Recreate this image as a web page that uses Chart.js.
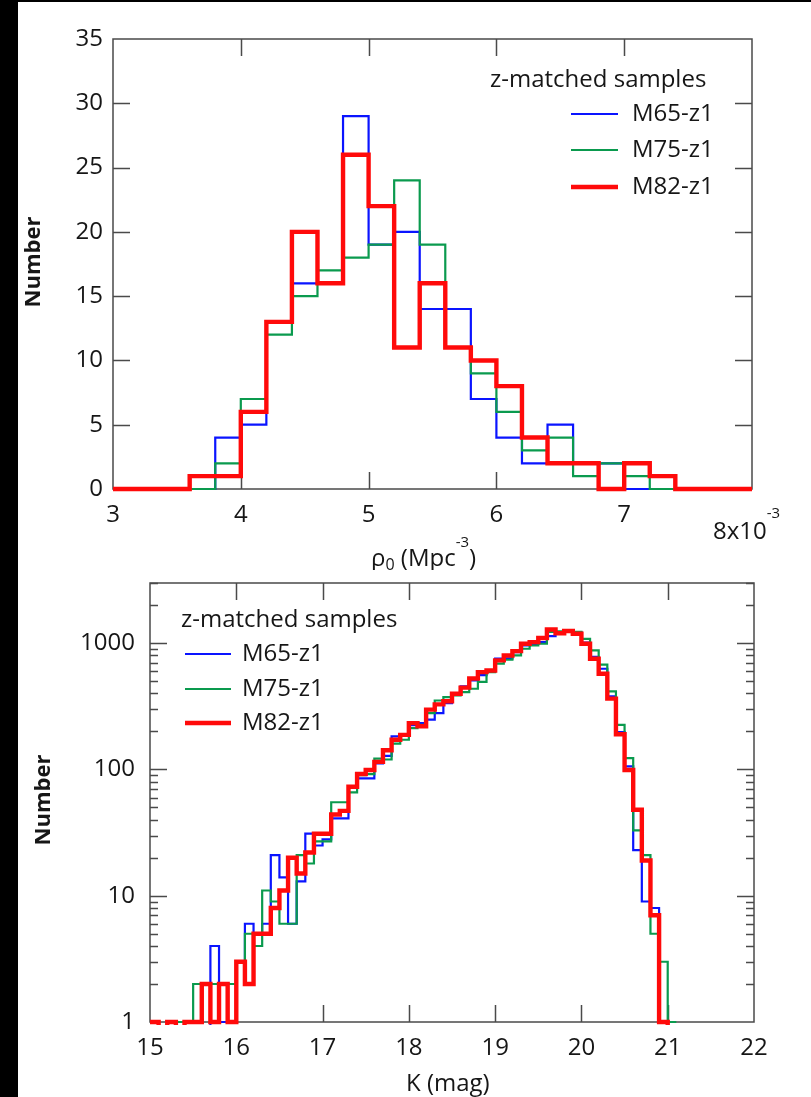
<!DOCTYPE html>
<html>
<head>
<meta charset="utf-8">
<title>z-matched samples</title>
<script src="https://cdn.jsdelivr.net/npm/chart.js@4.4.1/dist/chart.umd.min.js"></script>
<style>
  html, body { margin:0; padding:0; background:#000; }
  #page { position:relative; width:811px; height:1097px; overflow:hidden; background:#000; }
  #sheet { position:absolute; left:18px; top:2px; right:0; bottom:0; background:#fff; }
  canvas { position:absolute; left:0; }
  #cRho { top:0; }
  #cK { top:540px; }
</style>
</head>
<body>
<div id="page">
  <div id="sheet"></div>
  <canvas id="cRho" width="811" height="570"></canvas>
  <canvas id="cK" width="811" height="557"></canvas>
</div>
<script>
/* ── Data: top panel, rho_0 histogram (units of 1e-3 Mpc^-3, bins of 0.2) ── */
const rhoEdges = [3.0,3.2,3.4,3.6,3.8,4.0,4.2,4.4,4.6,4.8,5.0,5.2,5.4,5.6,5.8,6.0,6.2,6.4,6.6,6.8,7.0,7.2,7.4,7.6,7.8,8.0];
const rhoM65 = [0,0,0,0,4,5,13,16,16,29,19,20,14,14,7,4,2,5,2,2,0,0,0,0,0];
const rhoM75 = [0,0,0,0,2,7,12,15,17,18,19,24,19,11,9,6,3,4,1,2,1,0,0,0,0];
const rhoM82 = [0,0,0,1,1,6,13,20,16,26,22,11,16,11,10,8,4,2,2,0,2,1,0,0,0];
const rhoXTicks = [3,4,5,6,7,8];
const rhoYTicks = [0,5,10,15,20,25,30,35];

/* ── Data: bottom panel, K magnitude histogram (bins of 0.1 mag) ── */
const kEdges = [15.0,15.1,15.2,15.3,15.4,15.5,15.6,15.7,15.8,15.9,
  16.0,16.1,16.2,16.3,16.4,16.5,16.6,16.7,16.8,16.9,
  17.0,17.1,17.2,17.3,17.4,17.5,17.6,17.7,17.8,17.9,
  18.0,18.1,18.2,18.3,18.4,18.5,18.6,18.7,18.8,18.9,
  19.0,19.1,19.2,19.3,19.4,19.5,19.6,19.7,19.8,19.9,
  20.0,20.1,20.2,20.3,20.4,20.5,20.6,20.7,20.8,20.9,
  21.0,21.1];
const kM65 = [0,0,0,0,0,0,0,4,1,1, 3,6,5,6,21,14,6,13,31,25,
  28,41,41,72,85,85,112,128,183,188, 224,233,248,280,336,398,455,508,560,600,
  754,760,850,960,990,1020,1140,1200,1250,1220, 1010,780,628,380,198,106,23,9,8,1, 0];
const kM75 = [0,0,0,1,1,2,2,2,2,2, 3,5,4,11,9,6,6,21,18,27,
  27,55,55,66,90,92,122,120,160,172, 213,226,280,352,374,387,410,436,495,591,
  689,740,800,904,960,991,1230,1240,1250,1230, 1084,877,676,416,226,123,33,21,5,3, 1];
const kM82 = [1,0,1,0,1,1,2,1,2,1, 3,2,5,5,8,11,20,15,22,31,
  31,44,47,73,92,99,115,142,172,188, 233,220,298,328,347,398,445,525,591,609,
  731,800,866,991,1021,1099,1285,1200,1250,1190, 991,754,574,364,190,99,48,19,7,1, 0];
const kXTicks = [15,16,17,18,19,20,21,22];
const kYTicks = [1,10,100,1000];

const seriesNames = ['M65-z1','M75-z1','M82-z1'];
const legendTitle = 'z-matched samples';

/* ── Style ── */
const FONT = '"Open Sans", "DejaVu Sans", sans-serif';
const TXT = '#161616';
const AXIS = '#4a4a4a';
const COLORS = ['#0a14ff','#0a9a4e','#ff0a0a'];
const WIDTHS = [2.2,2.2,4.4];

/* ── Helpers ── */
// bins -> stepped points at bin edges (last edge repeats last value)
function stepPoints(edges, vals, floorVal){
  const pts = vals.map(function(v,i){
    return { x: edges[i], y: (floorVal && v === 0) ? floorVal : v };
  });
  const last = pts[pts.length-1].y;
  pts.push({ x: edges[vals.length], y: last });
  return pts;
}

function makeSets(edges, series, floorVal){
  // blue under green under red
  return series.map(function(vals,i){
    return {
      label: seriesNames[i], data: stepPoints(edges, vals, floorVal),
      borderColor: COLORS[i], borderWidth: WIDTHS[i], stepped: 'before',
      pointRadius: 0, fill: false, order: 2 - i,
      borderJoinStyle: 'miter', borderCapStyle: 'butt',
      clip: { left: 4, right: 4, top: 4, bottom: 3 }
    };
  });
}

function runs(ctx, parts, x, y){
  let cx = x;
  parts.forEach(function(p){
    ctx.font = (p[3] || '') + ' ' + p[1] + 'px ' + FONT;
    ctx.fillText(p[0], cx, y + p[2]);
    cx += ctx.measureText(p[0]).width;
  });
}

/* ── Plugin: box + inward ticks ── */
const frameTicks = {
  id: 'frameTicks',
  beforeDatasetsDraw(chart, args, o){
    const ctx = chart.ctx, a = chart.chartArea, sx = chart.scales.x, sy = chart.scales.y;
    ctx.save();
    ctx.strokeStyle = AXIS; ctx.lineWidth = 1.5;
    ctx.strokeRect(a.left, a.top, a.right - a.left, a.bottom - a.top);
    ctx.beginPath();
    o.xMajor.forEach(function(v){
      const p = Math.round(sx.getPixelForValue(v)) + 0.5;
      if(p <= a.left + 2 || p >= a.right - 2) return;
      ctx.moveTo(p, a.bottom); ctx.lineTo(p, a.bottom - o.len);
      ctx.moveTo(p, a.top); ctx.lineTo(p, a.top + o.len);
    });
    o.yMajor.forEach(function(v){
      const p = Math.round(sy.getPixelForValue(v)) + 0.5;
      if(p <= a.top + 2 || p >= a.bottom - 2) return;
      ctx.moveTo(a.left, p); ctx.lineTo(a.left + o.len, p);
      ctx.moveTo(a.right, p); ctx.lineTo(a.right - o.len, p);
    });
    (o.yMinor || []).forEach(function(v){
      const p = Math.round(sy.getPixelForValue(v)) + 0.5;
      ctx.moveTo(a.left, p); ctx.lineTo(a.left + o.minLen, p);
      ctx.moveTo(a.right, p); ctx.lineTo(a.right - o.minLen, p);
    });
    ctx.stroke();
    ctx.restore();
  },
  afterDraw(chart, args, o){
    const ctx = chart.ctx;
    ctx.save();
    ctx.fillStyle = TXT;
    ctx.textBaseline = 'middle';
    // y title
    ctx.save();
    ctx.translate(o.yTitle.x, o.yTitle.y);
    ctx.rotate(-Math.PI/2);
    ctx.textAlign = 'center';
    ctx.font = 'bold ' + o.yTitle.size + 'px ' + FONT;
    ctx.fillText('Number', 0, 0);
    ctx.restore();
    // legend
    const L = o.legend;
    ctx.textAlign = 'left';
    ctx.font = L.size + 'px ' + FONT;
    ctx.fillText(legendTitle, L.titleX, L.titleY);
    chart.data.datasets.forEach(function(ds, i){
      const yy = L.rowY[i];
      ctx.strokeStyle = ds.borderColor; ctx.lineWidth = ds.borderWidth;
      ctx.beginPath(); ctx.moveTo(L.lineX0, yy); ctx.lineTo(L.lineX1, yy); ctx.stroke();
      ctx.fillText(ds.label, L.textX, yy);
    });
    // extra text (axis titles etc.)
    ctx.textBaseline = 'alphabetic';
    o.texts.forEach(function(t){ runs(ctx, t.parts, t.x, t.y); });
    ctx.restore();
  }
};

function baseScale(extra){
  return Object.assign({
    grid: { display: false, drawTicks: false },
    border: { display: false }
  }, extra);
}

/* ── Top chart ── */
new Chart(document.getElementById('cRho'), {
  type: 'line',
  data: { datasets: makeSets(rhoEdges, [rhoM65, rhoM75, rhoM82], null) },
  options: {
    responsive: false, animation: false, devicePixelRatio: 1,
    layout: { padding: { left: 0, top: 39, right: 59, bottom: 0 } },
    plugins: {
      legend: { display: false }, tooltip: { enabled: false },
      frameTicks: {
        xMajor: rhoXTicks, yMajor: rhoYTicks, len: 17,
        yTitle: { x: 34, y: 262, size: 22 },
        legend: { size: 24, titleX: 490, titleY: 80, rowY: [114,150,187], lineX0: 571, lineX1: 618, textX: 632 },
        texts: [
          { x: 371, y: 566, parts: [['ρ',24,0],['0',16,4],[' (Mpc',24,0],['-3',15,-19],[')',24,0]] },
          { x: 713, y: 539, parts: [['8x10',24,0],['-3',15,-21]] }
        ]
      }
    },
    scales: {
      x: baseScale({
        type: 'linear', min: 3, max: 8,
        afterBuildTicks: function(s){ s.ticks = rhoXTicks.map(function(v){ return { value: v }; }); },
        afterFit: function(s){ s.height = 81; },
        ticks: { autoSkip: false, maxRotation: 0, padding: 12, color: TXT, font: { family: FONT, size: 24 },
          callback: function(v){ return v === 8 ? '' : String(v); } }
      }),
      y: baseScale({
        type: 'linear', min: 0, max: 35,
        afterBuildTicks: function(s){ s.ticks = rhoYTicks.map(function(v){ return { value: v }; }); },
        afterFit: function(s){ s.width = 113; },
        ticks: { autoSkip: false, padding: 10, color: TXT, font: { family: FONT, size: 24 } }
      })
    }
  },
  plugins: [frameTicks]
});

/* ── Bottom chart (canvas starts at page y = 540) ── */
const kMinor = [];
[1,10,100,1000].forEach(function(d){
  for(let m = 2; m <= 9; m++){ if(d*m <= 3000) kMinor.push(d*m); }
});

new Chart(document.getElementById('cK'), {
  type: 'line',
  // empty bins are pushed below the log axis (clipped), like gaps in the original
  data: { datasets: makeSets(kEdges, [kM65, kM75, kM82], 0.5) },
  options: {
    responsive: false, animation: false, devicePixelRatio: 1,
    layout: { padding: { left: 0, top: 43, right: 57, bottom: 0 } },
    plugins: {
      legend: { display: false }, tooltip: { enabled: false },
      frameTicks: {
        xMajor: kXTicks, yMajor: kYTicks, yMinor: kMinor, len: 17, minLen: 8,
        yTitle: { x: 44, y: 260, size: 22 },
        legend: { size: 24, titleX: 181, titleY: 80, rowY: [114,149,183], lineX0: 185, lineX1: 231, textX: 242 },
        texts: [
          { x: 406, y: 551, parts: [['K (mag)',24,0]] }
        ]
      }
    },
    scales: {
      x: baseScale({
        type: 'linear', min: 15, max: 22,
        afterBuildTicks: function(s){ s.ticks = kXTicks.map(function(v){ return { value: v }; }); },
        afterFit: function(s){ s.height = 75; },
        ticks: { autoSkip: false, maxRotation: 0, padding: 12, color: TXT, font: { family: FONT, size: 24 },
          callback: function(v){ return String(v); } }
      }),
      y: baseScale({
        type: 'logarithmic', min: 1, max: 3000,
        afterBuildTicks: function(s){ s.ticks = kYTicks.map(function(v){ return { value: v }; }); },
        afterFit: function(s){ s.width = 150; },
        ticks: { autoSkip: false, padding: 15, color: TXT, font: { family: FONT, size: 24 },
          callback: function(v){ return String(v); } }
      })
    }
  },
  plugins: [frameTicks]
});
</script>
</body>
</html>
